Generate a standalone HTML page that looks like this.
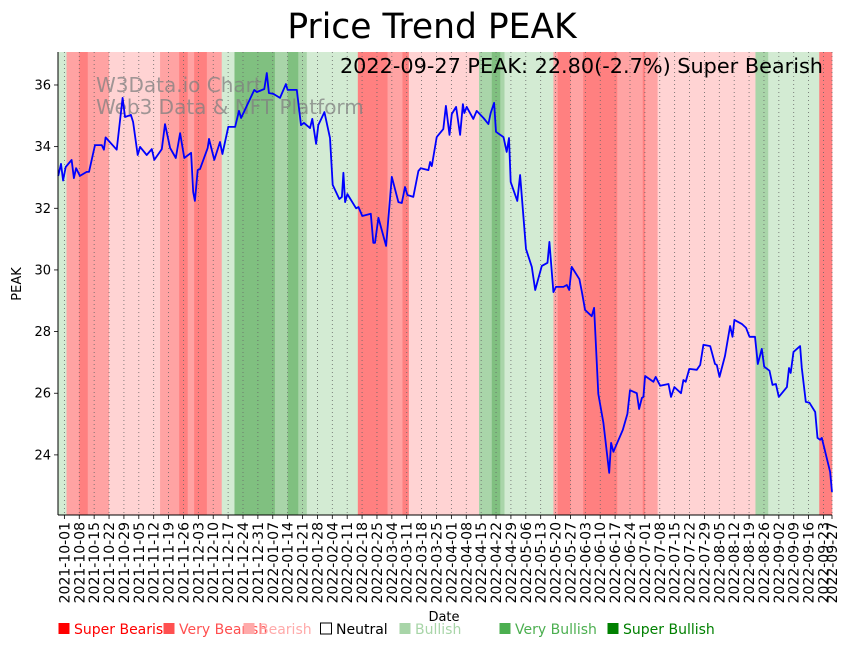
<!DOCTYPE html>
<html><head><meta charset="utf-8">
<style>
body{margin:0;background:#fff;font-family:"DejaVu Sans","Liberation Sans",sans-serif;}
#wrap{position:relative;width:851px;height:646px;overflow:hidden}
svg text{font-family:"DejaVu Sans","Liberation Sans",sans-serif;}
</style></head>
<body>
<div id="wrap">
<svg id="chart" width="851" height="646" xmlns="http://www.w3.org/2000/svg"></svg>
</div>
<script>
// ---- data ----
const startDate = "2021-09-28";
const dayOffsets = [0.1,1.4,2.4,3.6,6.4,7.5,8.5,10.3,13.5,14.6,17.4,20.6,21.6,22.4,27.6,30.4,31.5,34.3,35.3,37.5,38.6,41.7,44.1,45.3,48.8,50.3,52.7,55.4,57.4,59.4,62.6,63.6,64.4,65.7,66.8,70.4,71.0,73.5,76.2,77.3,80.1,83.3,85.1,86.1,92.3,93.5,97.0,98.2,99.2,101.3,104.4,107.2,108.0,112.3,114.3,115.7,118.5,119.6,121.4,122.4,125.3,127.9,129.2,132.3,133.5,134.2,135.0,136.1,140.2,141.3,143.1,147.1,148.3,149.1,150.7,154.3,157.0,160.1,161.7,163.2,164.3,167.1,169.5,170.6,174.2,175.0,175.8,178.1,181.2,182.4,184.1,185.2,187.2,189.1,190.4,191.1,192.2,195.3,196.9,200.1,202.4,203.5,205.1,206.0,209.5,211.0,212.1,212.9,216.0,217.3,220.1,222.8,224.4,227.5,230.2,231.1,233.0,234.2,237.7,239.3,240.4,241.6,245.2,246.3,247.9,251.0,252.1,254.1,256.5,259.2,260.1,261.2,265.6,267.8,269.0,272.2,273.3,274.6,275.3,276.1,280.0,281.1,283.2,287.1,288.3,289.9,293.0,294.1,295.2,296.9,300.4,302.0,303.5,306.7,309.0,309.8,311.1,313.7,316.1,317.2,318.1,321.6,323.6,325.2,327.8,329.1,331.0,332.1,334.6,336.0,337.6,339.0,342.8,343.8,344.6,345.9,349.0,349.8,351.7,353.4,356.1,357.2,358.4,359.2,363.1,364];
const prices = [33.05,33.44,32.9,33.34,33.57,32.98,33.3,33.05,33.18,33.18,34.05,34.05,33.9,34.3,33.9,35.58,34.96,35.03,34.8,33.73,33.99,33.73,33.92,33.57,33.92,34.73,33.96,33.63,34.44,33.63,33.8,32.53,32.24,33.24,33.27,33.96,34.25,33.57,34.15,33.76,34.64,34.64,35.16,34.93,35.84,35.77,35.87,36.39,35.74,35.71,35.58,36.03,35.84,35.84,34.7,34.77,34.6,34.9,34.09,34.7,35.12,34.28,32.76,32.3,32.37,33.15,32.2,32.46,32.0,32.04,31.75,31.82,30.88,30.88,31.69,30.78,33.02,32.2,32.17,32.69,32.43,32.37,33.21,33.3,33.24,33.5,33.37,34.31,34.57,35.32,34.38,35.06,35.29,34.38,35.38,35.09,35.29,34.9,35.16,34.93,34.73,35.09,35.42,34.48,34.31,33.83,34.28,32.85,32.24,33.08,30.68,30.1,29.35,30.13,30.23,30.91,29.28,29.45,29.45,29.51,29.35,30.1,29.7,29.32,28.7,28.5,28.77,25.98,25.04,23.42,24.39,24.1,24.81,25.33,26.1,26.0,25.49,25.85,25.88,26.56,26.37,26.53,26.24,26.3,25.88,26.2,26.0,26.43,26.37,26.79,26.76,26.92,27.57,27.53,26.95,26.92,26.53,27.21,28.18,27.83,28.38,28.25,28.12,27.83,27.83,26.95,27.44,26.86,26.73,26.27,26.3,25.88,26.2,26.82,26.66,27.34,27.53,26.82,25.72,25.69,25.39,24.55,24.49,24.55,23.45,22.8];
// trend regimes: start day offset and category (0 sbear,1 vbear,2 bear,3 neutral,4 bull,5 vbull,6 sbull)
const bandStarts = [0,4,10,14,24,48,57,61,64,70,77,83,102,108,113,117,141,155,162,165,198,204,208,210,233,235,241,247,263,275,276,282,328,334,358];
const bandCats   = [4,1,0,1,2,1,0,1,0,1,4,6,5,6,5,4,0,1,0,2,5,6,5,4,1,0,1,0,1,0,1,2,5,4,0];
const yTicks = [24,26,28,30,32,34,36];
const legendLabels = ["Super Bearish","Very Bearish","Bearish","Neutral","Bullish","Very Bullish","Super Bullish"];

// ---- layout ----
const NS="http://www.w3.org/2000/svg";
const svg=document.getElementById('chart');
const L=58,R=832,T=52,B=515,DMAX=364,YMIN=22.05,YMAX=37.07;
const xS=d=>L+d*(R-L)/DMAX;
const yS=v=>B-(v-YMIN)*(B-T)/(YMAX-YMIN);
const bandFill=["#ff8080","#ffa3a3","#ffd3d3","#ffffff","#d3ebd3","#a9d5a9","#80c080"];
const legendColors=["#ff0000","#ff5050","#ffaaaa","#ffffff","#a8d5a8","#4caf50","#008000"];
const legendText=["#ff0000","#ff5050","#ffaaaa","#000000","#a8d5a8","#4caf50","#008000"];
function mk(tag,attrs,parent){const e=document.createElementNS(NS,tag);for(const k in attrs)e.setAttribute(k,attrs[k]);(parent||svg).appendChild(e);return e;}
function addDays(s,n){const d=new Date(s+"T00:00:00Z");d.setUTCDate(d.getUTCDate()+n);return d.toISOString().slice(0,10);}

// bands
bandStarts.forEach((s,i)=>{
  const e=(i+1<bandStarts.length)?bandStarts[i+1]:DMAX;
  const r=mk('rect',{x:xS(s),y:T,width:xS(e)-xS(s)+0.3,height:B-T,fill:bandFill[bandCats[i]]});
  
  
});

// x ticks (weekly from 2021-10-01) plus last date
const tickDays=[];for(let d=3;d<=DMAX-3;d+=7)tickDays.push(d);tickDays.push(DMAX);
tickDays.forEach(d=>{
  const x=xS(d);
  const g=mk('line',{x1:x,x2:x,y1:T,y2:B,stroke:'#666','stroke-width':0.8,'stroke-dasharray':'1,3'});
  
  
  const tk=mk('line',{x1:x,x2:x,y1:B,y2:B+4,stroke:'#000','stroke-width':0.8});
  
  
  const t=mk('text',{x:0,y:0,'font-size':14,'text-anchor':'end',transform:`translate(${x+5},${B+7}) rotate(-90)`,fill:'#000'});
  t.textContent=addDays(startDate,d);
  
  
});

// y ticks
yTicks.forEach(v=>{
  const y=yS(v);
  const tk=mk('line',{x1:L-4,x2:L,y1:y,y2:y,stroke:'#000','stroke-width':0.8});
  
  
  const t=mk('text',{x:L-7,y:y+4.5,'font-size':13,'text-anchor':'end',fill:'#000'});
  t.textContent=v;
  
  
});

// watermark
const w1=mk('text',{x:96,y:92,'font-size':20,fill:'#808080','fill-opacity':0.75});
w1.textContent="W3Data.io Chart";


const w2=mk('text',{x:96,y:114,'font-size':20,fill:'#808080','fill-opacity':0.75});
w2.textContent="Web3 Data & NFT Platform";



// price line
const pts=dayOffsets.map((d,i)=>xS(d).toFixed(1)+','+yS(prices[i]).toFixed(1)).join(' ');
const pl=mk('polyline',{points:pts,fill:'none',stroke:'#0000ff','stroke-width':1.8,'stroke-linejoin':'round'});



// spines
const sl=mk('line',{x1:L,x2:L,y1:T,y2:B,stroke:'#000','stroke-width':1});


const sb=mk('line',{x1:L,x2:R,y1:B,y2:B,stroke:'#000','stroke-width':1});



// annotation
const an=mk('text',{x:823,y:73,'font-size':20.8,'text-anchor':'end',fill:'#000'});
an.textContent="2022-09-27 PEAK: 22.80(-2.7%) Super Bearish";



// title
const ti=mk('text',{x:432,y:38,'font-size':34.5,'text-anchor':'middle',fill:'#000'});
ti.textContent="Price Trend PEAK";



// axis titles
const xt=mk('text',{x:444,y:621,'font-size':13,'text-anchor':'middle',fill:'#000'});
xt.textContent="Date";


const yt=mk('text',{x:0,y:0,'font-size':13,'text-anchor':'middle',transform:'translate(21,284) rotate(-90)',fill:'#000'});
yt.textContent="PEAK";



// legend
const legX=[58,163,243,320,399,499,607];
legendLabels.forEach((lab,i)=>{
  const sq=mk('rect',{x:legX[i]+0.5,y:623,width:11,height:11,fill:legendColors[i],stroke:i===3?'#000':'none','stroke-width':1});
  
  
  const t=mk('text',{x:legX[i]+16,y:634,'font-size':14,fill:legendText[i]});
  t.textContent=lab;
  
  
});
</script>
</body></html>
